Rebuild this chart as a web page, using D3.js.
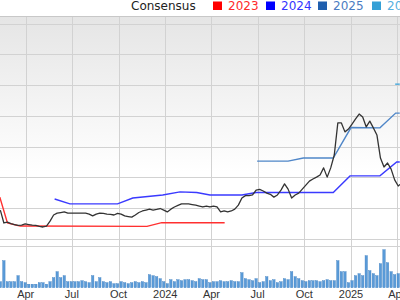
<!DOCTYPE html>
<html>
<head>
<meta charset="utf-8">
<title>Price and Consensus</title>
<script src="https://d3js.org/d3.v7.min.js"></script>
<style>
  body { margin: 0; background: #fff; }
</style>
</head>
<body>
<svg id="chart" width="400" height="300"></svg>
<script>

// weekly closing price (chart units), weeks starting 2023-02-10
var firstWeek = "2023-02-10";
var prices = [9.4, 5.2, 5.5, 5.0, 4.7, 4.4, 4.5, 4.9, 4.7, 4.5, 4.4, 4.1, 3.9, 4.2, 5.8, 7.8,
  8.4, 8.6, 8.8, 8.4, 8.4, 8.4, 8.4, 8.4, 8.4, 8.1, 7.5, 8.1, 8.4, 8.3, 8.1, 8.0,
  7.8, 8.3, 8.1, 7.5, 7.3, 7.1, 7.8, 8.6, 9.1, 9.4, 9.7, 9.4, 9.6, 9.9, 9.4, 8.8,
  9.7, 10.4, 10.9, 11.4, 11.4, 11.4, 11.2, 11.0, 10.7, 10.4, 10.7, 10.4, 10.7, 10.4, 8.8, 9.1,
  8.8, 9.1, 9.7, 11.0, 13.3, 14.1, 14.1, 14.3, 15.9, 16.1, 15.6, 14.9, 14.5, 13.6, 14.3, 15.9,
  17.9, 16.2, 13.3, 14.3, 14.9, 16.2, 17.5, 18.8, 19.5, 20.1, 20.8, 23.1, 20.1, 23.1, 27.3, 37.7,
  37.7, 34.8, 35.7, 37.3, 39.0, 40.6, 39.6, 36.4, 38.3, 36.1, 33.8, 26.3, 23.4, 24.7, 22.7, 19.2,
  17.2, 18.2];

// weekly volume (millions)
var volumes = [6, 27, 6, 6, 6, 12, 6, 5, 3.5, 3.5, 3.5, 5, 5, 3.5, 6, 10,
  16, 10, 12, 6, 6, 6, 6, 7, 6, 5, 12, 6, 10, 6, 5, 6,
  4, 4, 6, 5, 4, 5, 6, 5, 6, 5, 13, 12, 11, 9, 6, 4,
  8, 6, 8, 7, 8, 8, 7, 6, 9, 8, 8, 5, 6, 6, 7, 6,
  6, 7, 6, 6, 15, 9, 8, 7, 9, 5, 6, 11, 7, 8, 5, 6,
  9, 8, 16, 11, 9, 7, 6, 7, 7, 7, 6, 7, 8, 7, 7, 27,
  16, 16, 5, 7, 12, 14, 12, 32, 17, 14, 12, 24, 38, 25, 16, 13,
  14, 16];

// consensus estimate steps per fiscal year
var est2023Dates = ["2023-02-09", "2023-02-24", "2023-03-21", "2023-11-26", "2023-12-25", "2024-04-27"];
var est2023 = [13.6, 5.2, 4.2, 4.1, 5.3, 5.3];
var est2024Dates = ["2023-05-28", "2023-06-27", "2023-09-29", "2023-10-29", "2023-12-27", "2024-01-30",
  "2024-03-03", "2024-03-29", "2024-05-31", "2024-06-28", "2024-11-27", "2024-12-30", "2025-02-27",
  "2025-04-01", "2025-04-07"];
var est2024 = [13.0, 11.4, 11.4, 13.3, 14.3, 15.3, 15.1, 14.3, 14.3, 15.1, 15.1, 20.5, 20.5, 25.0, 25.0];
var est2025Dates = ["2024-06-30", "2024-08-30", "2024-09-29", "2024-11-27", "2025-01-01", "2025-02-27",
  "2025-03-30", "2025-04-07"];
var est2025 = [25.3, 25.3, 26.3, 26.3, 36.2, 36.1, 40.9, 40.9];
var est2026Dates = ["2025-03-29", "2025-04-07"];
var est2026 = [50.3, 50.3];

var legendLabels = ["2023", "2024", "2025", "2026"];
var legendColors = ["#ff0000", "#0000ff", "#1f5fae", "#35a0d6"];
var lineColors = ["#ff3030", "#3a3aff", "#4f86c8", "#45a8dc"];
var textColors = ["#ff2a2a", "#3535ff", "#4a7cc2", "#55afe0"];

var svg = d3.select("#chart");
var parse = d3.utcParse("%Y-%m-%d");

var x = d3.scaleUtc()
  .domain([parse("2023-04-01"), parse("2025-04-01")])
  .range([25.7, 396.7]);

var y = d3.scaleLinear().domain([0, 70]).range([239, 23.5]);
var yVol = d3.scaleLinear().domain([0, 40]).range([287.7, 247.7]);

var plotTop = 16.5, plotBottom = 239, volTop = 246, volBottom = 288;

// background gradient
var defs = svg.append("defs");
var grad = defs.append("linearGradient")
  .attr("id", "bg").attr("x1", 0).attr("y1", 0).attr("x2", 0).attr("y2", 1);
grad.append("stop").attr("offset", "0%").attr("stop-color", "#e5e5e5");
grad.append("stop").attr("offset", "70%").attr("stop-color", "#ffffff");

svg.append("rect")
  .attr("x", 0).attr("y", plotTop)
  .attr("width", 400).attr("height", plotBottom - plotTop)
  .attr("fill", "url(#bg)");

// grid
var grid = svg.append("g").attr("stroke", "#d2d2d2").attr("stroke-width", 1);
var quarters = x.ticks(d3.utcMonth.every(3));
grid.selectAll("line.v").data(quarters).enter().append("line")
  .attr("x1", function (d) { return Math.round(x(d)) + 0.5; })
  .attr("x2", function (d) { return Math.round(x(d)) + 0.5; })
  .attr("y1", plotTop).attr("y2", volBottom);
grid.selectAll("line.h").data(y.ticks(7)).enter().append("line")
  .attr("x1", 0).attr("x2", 400)
  .attr("y1", function (d) { return Math.round(y(d)) + 0.5; })
  .attr("y2", function (d) { return Math.round(y(d)) + 0.5; });
grid.append("line").attr("x1", 0).attr("x2", 400)
  .attr("y1", plotTop).attr("y2", plotTop).attr("stroke", "#c8c8c8");
grid.append("line").attr("x1", 0).attr("x2", 400)
  .attr("y1", volTop + 0.5).attr("y2", volTop + 0.5);

var weeks = volumes.map(function (v, i) { return d3.utcDay.offset(parse(firstWeek), 7 * i); });

// volume bars
svg.append("g").selectAll("rect").data(volumes).enter().append("rect")
  .attr("x", function (d, i) { return x(weeks[i]) - 1.2; })
  .attr("width", 2.4)
  .attr("y", function (d) { return yVol(d); })
  .attr("height", function (d) { return yVol(0) - yVol(d); })
  .attr("fill", "#5a9bd8")
  .attr("stroke", "#3f7fc0")
  .attr("stroke-width", 0.4);

// consensus lines
var estSets = [[est2023Dates, est2023], [est2024Dates, est2024], [est2025Dates, est2025], [est2026Dates, est2026]];
var line = d3.line()
  .x(function (d) { return x(d[0]); })
  .y(function (d) { return y(d[1]); });

estSets.forEach(function (s, k) {
  var pts = s[0].map(function (dt, i) { return [parse(dt), s[1][i]]; });
  svg.append("path")
    .datum(pts)
    .attr("d", line)
    .attr("fill", "none")
    .attr("stroke", lineColors[k])
    .attr("stroke-width", 1.4);
});

// price
svg.append("path")
  .datum(prices.map(function (p, i) { return [weeks[i], p]; }))
  .attr("d", line)
  .attr("fill", "none")
  .attr("stroke", "#333")
  .attr("stroke-width", 1.3)
  .attr("stroke-linejoin", "round");

// x labels
var fmt = function (d) { return d.getUTCMonth() === 0 ? d3.utcFormat("%Y")(d) : d3.utcFormat("%b")(d); };
svg.append("g").selectAll("text").data(quarters).enter().append("text")
  .attr("x", function (d) { return x(d); })
  .attr("y", 298)
  .attr("text-anchor", "middle")
  .style("font-family", "Liberation Sans, Arial, sans-serif")
  .style("font-size", "11px")
  .attr("fill", "#333")
  .text(fmt);

// legend
var legend = svg.append("g")
  .style("font-family", "DejaVu Sans, sans-serif")
  .style("font-size", "12px");
legend.append("text").attr("x", 131).attr("y", 10).attr("fill", "#222").text("Consensus");
var legX = [213, 266, 318, 372];
legendLabels.forEach(function (lab, k) {
  legend.append("rect").attr("x", legX[k]).attr("y", 1.5).attr("width", 9).attr("height", 8.5)
    .attr("fill", legendColors[k]);
  legend.append("text").attr("x", legX[k] + 15).attr("y", 10).attr("fill", textColors[k]).text(lab);
});

</script>
</body>
</html>
